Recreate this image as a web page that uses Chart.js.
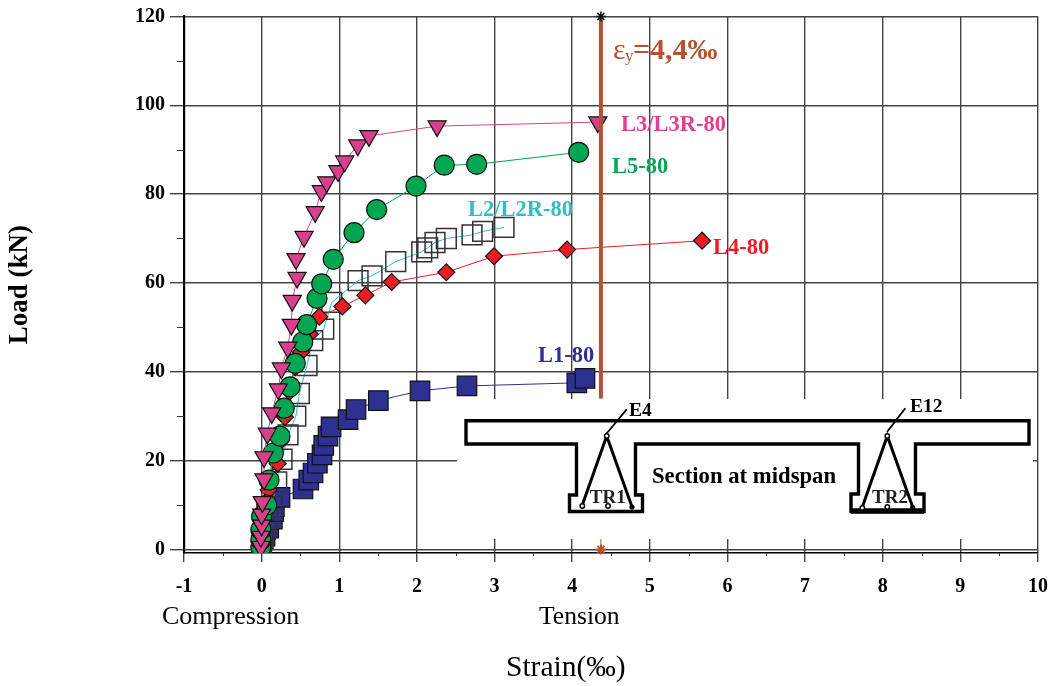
<!DOCTYPE html>
<html><head><meta charset="utf-8">
<style>html,body{margin:0;padding:0;background:#fff}canvas{display:block}</style>
<script src="https://cdn.jsdelivr.net/npm/chart.js@4"></script>
</head><body>
<canvas id="c" width="1052" height="686"></canvas>
<script>
const xTicks=[-1,0,1,2,3,4,5,6,7,8,9,10];
const yTicks=[0,20,40,60,80,100,120];
const xMinor=[-0.5,0.5,1.5,2.5,3.5,4.5,5.5,6.5,7.5,8.5,9.5];
const yMinor=[10,30,50,70,90,110];

const l1Strain=[0,0,0.044,0.091,0.138,0.155,0.164,0.237,0.533,0.607,0.662,0.718,0.778,0.8,0.855,0.894,1.113,1.216,1.503,2.04,2.645,4.06,4.165];
const l1Load=[0.3,1,3,4.8,6.8,8.5,9.6,11.7,13.6,15.6,17.2,19.4,21.3,23.4,25.5,27.6,29.2,31.5,33.5,35.7,36.8,37.5,38.5];

const l2Strain=[0,0.02,0.05,0.08,0.13,0.194,0.263,0.34,0.44,0.486,0.585,0.658,0.8,0.903,1.242,1.422,1.727,2.062,2.139,2.233,2.379,2.71,2.847,3.122];
const l2Load=[0.5,2.5,4.5,7,9.6,15.2,20.3,25.8,30,35.1,41.4,47,49.6,55.6,60.5,61.6,64.8,67,67.9,69.1,70,70.8,71.6,72.5];

const l3Strain=[-0.01,-0.01,0,0,0.009,0.031,0.031,0.073,0.13,0.215,0.254,0.336,0.383,0.395,0.456,0.443,0.546,0.69,0.769,0.838,0.984,1.07,1.238,1.383,2.26,4.33];
const l3Load=[0.6,2.9,5.4,7.9,10.7,15.8,20.8,26.1,30.7,36.1,40.8,45.5,50.6,56,61.2,65.4,70.4,76,80.7,82.7,85.2,87.4,91,93.1,95.3,96.2];

const l4Strain=[0,0,0.01,0.03,0.09,0.207,0.25,0.3,0.36,0.43,0.507,0.62,0.743,1.04,1.336,1.675,2.379,2.993,3.934,5.673];
const l4Load=[0.5,2.5,5,8,13.4,19.3,24.5,29.8,35.5,41,44.4,48.5,52.4,54.7,57.2,60.2,62.4,66,67.5,69.5];

const l5Strain=[-0.01,-0.01,-0.01,0,0.066,0.095,0.151,0.237,0.292,0.366,0.434,0.53,0.58,0.714,0.774,0.923,1.19,1.482,1.989,2.353,2.77,4.084];
const l5Load=[0.5,2.1,4.5,7.4,10,15.6,21.7,25.5,31.8,36.6,41.9,46.7,50.6,56.5,59.8,65.3,71.3,76.5,81.8,86.5,86.7,89.4];

const yieldStrain=[4.37,4.37];
const yieldLoad=[120,34];
const yieldBase=[0,34];

const zip=(a,b)=>a.map((v,i)=>({x:v,y:b[i]}));
const serif='"Liberation Serif"';
const BROWN='#b5512f',MAG='#d9408c',GRN='#00a651',RED='#ed1c24',BLU='#2e3192',CYN='#33bcc6';

const minorTicks={id:'minorTicks',beforeDatasetsDraw(ch){
  const {ctx,scales:{x,y},chartArea:a}=ch;
  ctx.save();ctx.strokeStyle='#333';ctx.lineWidth=1;
  xMinor.forEach(v=>{const p=Math.round(x.getPixelForValue(v))+.5;ctx.beginPath();ctx.moveTo(p,a.bottom);ctx.lineTo(p,a.bottom+3);ctx.stroke();});
  yMinor.forEach(v=>{const p=Math.round(y.getPixelForValue(v))+.5;ctx.beginPath();ctx.moveTo(a.left-7,p);ctx.lineTo(a.left,p);ctx.stroke();});
  ctx.restore();
}};

function txt(ctx,s,x,y,font,color,align){ctx.font=font;ctx.fillStyle=color;ctx.textAlign=align||'left';ctx.textBaseline='middle';ctx.fillText(s,x,y);}

const section={id:'section',afterDraw(ch){
  const ctx=ch.ctx;ctx.save();
  ctx.fillStyle='#fff';ctx.fillRect(457,399,576,140);
  ctx.strokeStyle='#000';ctx.fillStyle='#000';ctx.lineJoin='miter';
  ctx.lineWidth=3.4;
  ctx.beginPath();
  [[466,420.8],[1029,420.8],[1029,444],[915.5,444],[915.5,494],[924,494],[924,511.5],[851,511.5],[851,494],[858.5,494],[858.5,444],[635.5,444],[635.5,495],[642.5,495],[642.5,511.5],[569.5,511.5],[569.5,495],[576.5,495],[576.5,444],[466,444]]
    .forEach((p,i)=>i?ctx.lineTo(p[0],p[1]):ctx.moveTo(p[0],p[1]));
  ctx.closePath();ctx.stroke();
  ctx.lineWidth=5.5;ctx.beginPath();ctx.moveTo(851,511);ctx.lineTo(924,511);ctx.stroke();
  ctx.lineWidth=3;ctx.beginPath();
  ctx.moveTo(582.3,505);ctx.lineTo(606.7,436);ctx.lineTo(631.7,506);
  ctx.moveTo(862.3,507);ctx.lineTo(887.3,436);ctx.lineTo(912.7,507);ctx.stroke();
  ctx.lineWidth=1.8;ctx.beginPath();
  ctx.moveTo(626.7,409.3);ctx.lineTo(607,433);
  ctx.moveTo(905.3,408.3);ctx.lineTo(887,432);ctx.stroke();
  ctx.lineWidth=1.5;
  [[582.3,506],[608,506],[606.7,436],[862.3,508],[887.3,507],[887.3,436]].forEach(p=>{ctx.beginPath();ctx.arc(p[0],p[1],2.2,0,7);ctx.fillStyle='#fff';ctx.fill();ctx.stroke();});
  ctx.fillStyle='#000';
  [[632,507],[912.7,507.5]].forEach(p=>{ctx.beginPath();ctx.arc(p[0],p[1],2.6,0,7);ctx.fill();});
  const b=s=>'bold '+s+'px '+serif;
  txt(ctx,'TR1',607.7,498,b(19),'#222','center');
  txt(ctx,'TR2',890,498,b(19),'#222','center');
  txt(ctx,'E4',629,411,b(19.5),'#000');
  txt(ctx,'E12',910,407,b(19.5),'#000');
  txt(ctx,'Section at midspan',652,477,b(22.7),'#000');
  txt(ctx,'L3/L3R-80',621,125,b(22.5),'#e0408f');
  txt(ctx,'L5-80',612,167,b(22.5),GRN);
  txt(ctx,'L2/L2R-80',468,210,b(22.5),CYN);
  txt(ctx,'L4-80',713,248,b(22.5),RED);
  txt(ctx,'L1-80',538,356,b(22.5),BLU);
  txt(ctx,'ε',613,51,'30px '+serif,BROWN);
  txt(ctx,'y',625,57,'17px '+serif,BROWN);
  txt(ctx,'=4,4‰',633,51,b(30),BROWN);
  txt(ctx,'Compression',162,617,'26px '+serif,'#000');
  txt(ctx,'Tension',539,617,'25.6px '+serif,'#000');
  txt(ctx,'Strain(‰)',506,668,'29.5px '+serif,'#000');
  ctx.restore();
}};

const base={showLine:true,borderWidth:1,pointBorderWidth:1.2,pointBorderColor:'#111'};
new Chart(document.getElementById('c'),{
  type:'scatter',
  data:{datasets:[
    {...base,label:'L1-80',order:5,data:zip(l1Strain,l1Load),borderColor:BLU,pointBackgroundColor:BLU,pointStyle:'rect',pointRadius:13.8},
    {...base,label:'L2/L2R-80',order:4,data:zip(l2Strain,l2Load),borderColor:CYN,pointBackgroundColor:'rgba(0,0,0,0)',pointBorderColor:'#333',pointBorderWidth:1.5,pointStyle:'rect',pointRadius:14},
    {...base,label:'L4-80',order:3,data:zip(l4Strain,l4Load),borderColor:RED,pointBackgroundColor:RED,pointStyle:'rectRot',pointRadius:8.5},
    {...base,label:'L5-80',order:2,data:zip(l5Strain,l5Load),borderColor:GRN,pointBackgroundColor:GRN,pointStyle:'circle',pointRadius:10},
    {...base,label:'L3/L3R-80',order:1,data:zip(l3Strain,l3Load),borderColor:MAG,pointBackgroundColor:MAG,pointStyle:'triangle',pointRotation:180,pointRadius:10.5},
    {label:'Yield marks',order:0.5,showLine:true,clip:false,data:zip(yieldStrain,yieldBase),borderColor:BROWN,borderWidth:1,pointStyle:'star',pointRadius:[5,0],pointBorderColor:BROWN,pointBorderWidth:2,pointBackgroundColor:BROWN},
    {label:'εy=4,4‰',order:0,showLine:true,clip:false,data:zip(yieldStrain,yieldLoad),borderColor:BROWN,borderWidth:4,pointStyle:'star',pointRadius:[5,0],pointBorderColor:'#111',pointBorderWidth:1.5}
  ]},
  plugins:[minorTicks,section],
  options:{
    responsive:false,animation:false,
    layout:{padding:{top:16.4,right:14,left:0,bottom:0},autoPadding:false},
    plugins:{legend:{display:false},tooltip:{enabled:false}},
    scales:{
      x:{type:'linear',min:-1,max:10,
        afterBuildTicks:s=>{s.ticks=xTicks.map(v=>({value:v}));},
        afterFit:s=>{s.height=133;s.paddingLeft=0;s.paddingRight=0;},
        grid:{color:'#444',lineWidth:1.4,tickLength:9,tickColor:'#444'},
        border:{display:true,color:'#000',width:1.6},
        ticks:{autoSkip:false,maxRotation:0,padding:13,color:'#000',font:{family:serif,weight:'bold',size:20}}},
      y:{type:'linear',min:-0.81,max:120,
        afterBuildTicks:s=>{s.ticks=yTicks.map(v=>({value:v}));},
        afterFit:s=>{s.width=184;s.paddingTop=0;s.paddingBottom=0;},
        grid:{color:'#444',lineWidth:1.4,tickLength:14,tickColor:'#444'},
        border:{display:true,color:'#000',width:2.2},
        title:{display:true,text:'Load (kN)',color:'#000',font:{family:serif,weight:'bold',size:27},padding:{top:4,bottom:0}},
        ticks:{padding:5,color:'#000',font:{family:serif,weight:'bold',size:20}}}
    }
  }
});
</script>
</body></html>
